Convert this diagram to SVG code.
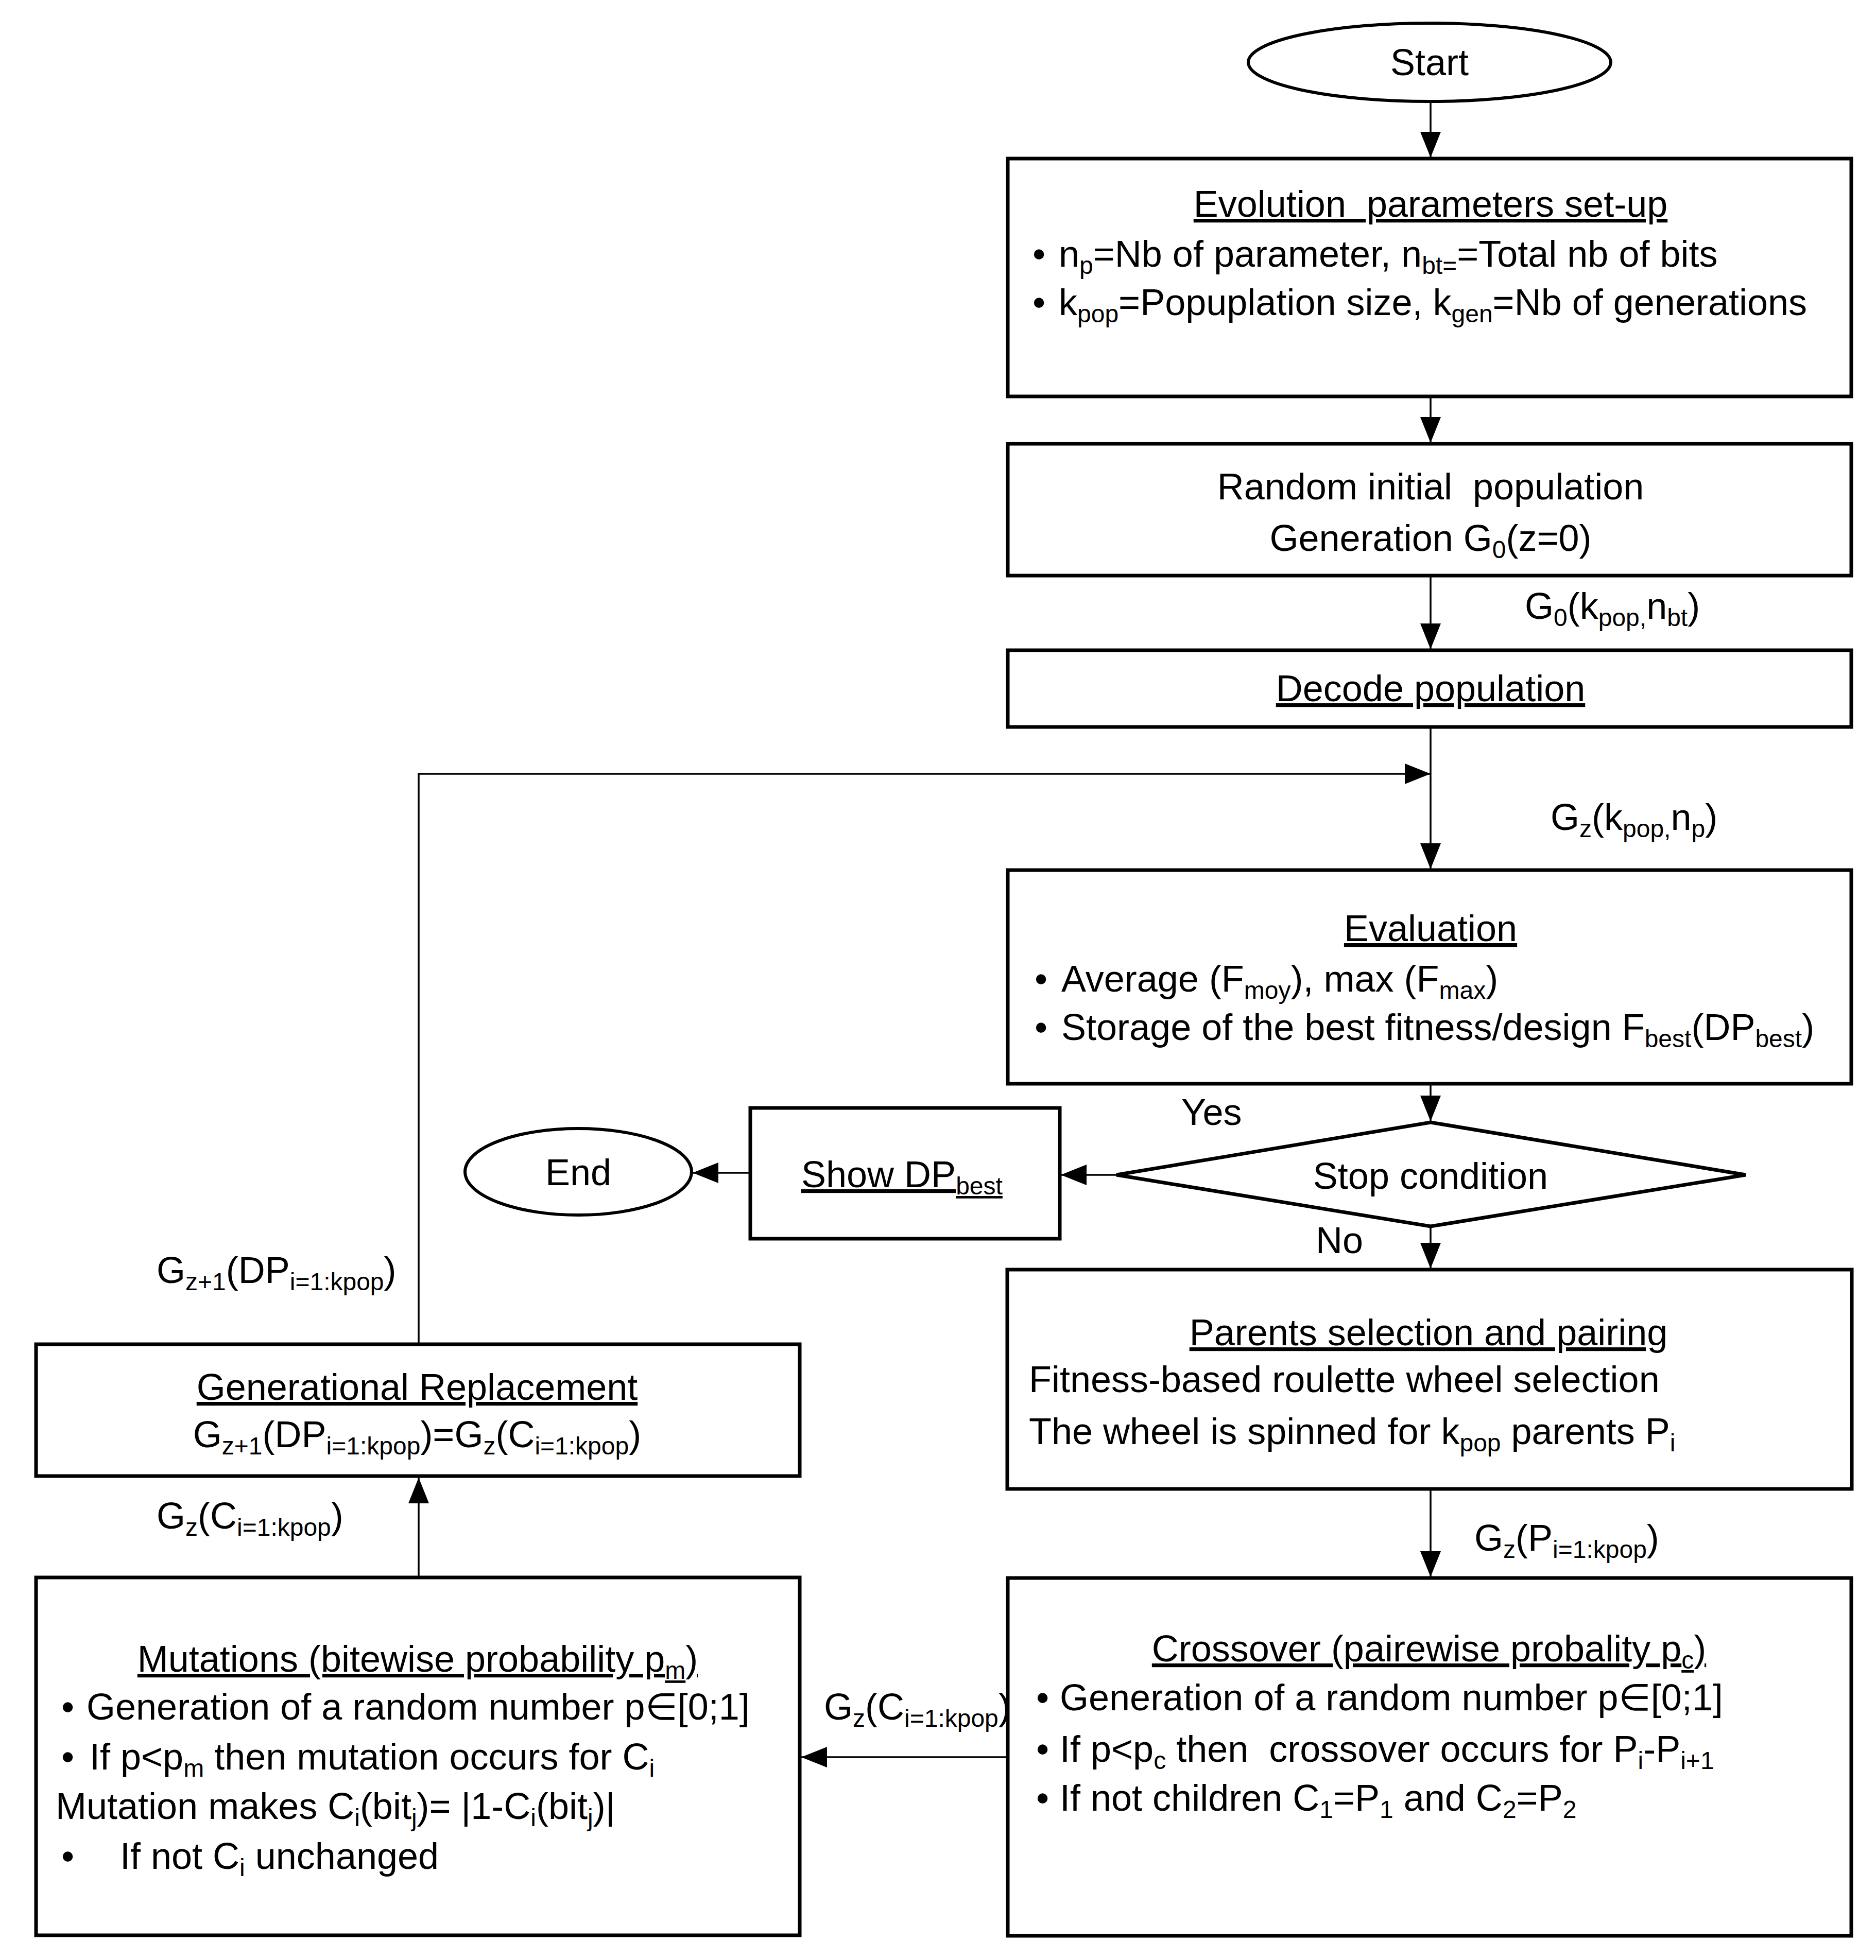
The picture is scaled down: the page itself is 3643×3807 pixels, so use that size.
<svg xmlns="http://www.w3.org/2000/svg" width="3643" height="3807" viewBox="0 0 3643 3807">
<style>
.bg{fill:#fff}
.box{fill:#fff;stroke:#000;stroke-width:7}
.t{font-family:"Liberation Sans",Arial,sans-serif;font-size:72px;fill:#000}
.m{text-anchor:middle}
.u{text-decoration:underline}
.s{font-size:48px}
.c{fill:none;stroke:#000;stroke-width:3.5}
</style>
<defs>
<marker id="ah" markerUnits="userSpaceOnUse" markerWidth="50" markerHeight="40" refX="50" refY="20" orient="auto" viewBox="0 0 50 40">
<path d="M0,0 L50,20 L0,40 z" fill="#000"/>
</marker>
</defs>
<rect class="bg" x="0" y="0" width="3643" height="3807"/>

<g id="connectors">
<line class="c" x1="2778" y1="198" x2="2778" y2="306" marker-end="url(#ah)"/>
<line class="c" x1="2778" y1="770" x2="2778" y2="860" marker-end="url(#ah)"/>
<line class="c" x1="2778" y1="1118" x2="2778" y2="1261" marker-end="url(#ah)"/>
<line class="c" x1="2778" y1="1412" x2="2778" y2="1688" marker-end="url(#ah)"/>
<polyline class="c" points="813,2611 813,1503 2778,1503" marker-end="url(#ah)"/>
<line class="c" x1="2778" y1="2105" x2="2778" y2="2178" marker-end="url(#ah)"/>
<line class="c" x1="2168" y1="2282" x2="2060" y2="2282" marker-end="url(#ah)"/>
<line class="c" x1="1457" y1="2278" x2="1345" y2="2278" marker-end="url(#ah)"/>
<line class="c" x1="2778" y1="2382" x2="2778" y2="2464" marker-end="url(#ah)"/>
<line class="c" x1="2778" y1="2892" x2="2778" y2="3063" marker-end="url(#ah)"/>
<line class="c" x1="1957" y1="3413" x2="1556" y2="3413" marker-end="url(#ah)"/>
<line class="c" x1="813" y1="3064" x2="813" y2="2870" marker-end="url(#ah)"/>
<text class="t" x="2961" y="1202">G<tspan class="s" dy="14">0</tspan><tspan dy="-14">(k</tspan><tspan class="s" dy="14">pop,</tspan><tspan dy="-14">n</tspan><tspan class="s" dy="14">bt</tspan><tspan dy="-14">)</tspan></text>
<text class="t" x="3011" y="1612">G<tspan class="s" dy="14">z</tspan><tspan dy="-14">(k</tspan><tspan class="s" dy="14">pop,</tspan><tspan dy="-14">n</tspan><tspan class="s" dy="14">p</tspan><tspan dy="-14">)</tspan></text>
<text class="t" x="2294" y="2185">Yes</text>
<text class="t" x="2555" y="2434">No</text>
<text class="t" x="2863" y="3012">G<tspan class="s" dy="14">z</tspan><tspan dy="-14">(P</tspan><tspan class="s" dy="14">i=1:kpop</tspan><tspan dy="-14">)</tspan></text>
<text class="t" x="1600" y="3340">G<tspan class="s" dy="14">z</tspan><tspan dy="-14">(C</tspan><tspan class="s" dy="14">i=1:kpop</tspan><tspan dy="-14">)</tspan></text>
<text class="t" x="304" y="2492">G<tspan class="s" dy="14">z+1</tspan><tspan dy="-14">(DP</tspan><tspan class="s" dy="14">i=1:kpop</tspan><tspan dy="-14">)</tspan></text>
<text class="t" x="304" y="2969">G<tspan class="s" dy="14">z</tspan><tspan dy="-14">(C</tspan><tspan class="s" dy="14">i=1:kpop</tspan><tspan dy="-14">)</tspan></text>
</g>

<g id="start">
<ellipse cx="2776" cy="121" rx="352" ry="76" fill="#fff" stroke="#000" stroke-width="6"/>
<text class="t m" x="2776" y="146">Start</text>
</g>

<g id="setup">
<rect class="box" x="1957" y="308" width="1638" height="462"/>
<text class="t m u" x="2778" y="421" xml:space="preserve">Evolution  parameters set-up</text>
<text class="t" x="2005" y="518">•</text>
<text class="t" x="2056" y="518">n<tspan class="s" dy="14">p</tspan><tspan dy="-14">=Nb of parameter, n</tspan><tspan class="s" dy="14">bt=</tspan><tspan dy="-14">=Total nb of bits</tspan></text>
<text class="t" x="2005" y="612">•</text>
<text class="t" x="2056" y="612">k<tspan class="s" dy="14">pop</tspan><tspan dy="-14">=Popuplation size, k</tspan><tspan class="s" dy="14">gen</tspan><tspan dy="-14">=Nb of generations</tspan></text>
</g>

<g id="init">
<rect class="box" x="1957" y="862" width="1638" height="256"/>
<text class="t m" x="2778" y="970" xml:space="preserve">Random initial  population</text>
<text class="t m" x="2778" y="1070">Generation G<tspan class="s" dy="14">0</tspan><tspan dy="-14">(z=0)</tspan></text>
</g>

<g id="decode">
<rect class="box" x="1957" y="1263" width="1638" height="149"/>
<text class="t m u" x="2778" y="1362">Decode population</text>
</g>

<g id="evaluation">
<rect class="box" x="1957" y="1690" width="1638" height="415"/>
<text class="t m u" x="2778" y="1828">Evaluation</text>
<text class="t" x="2009" y="1926">•</text>
<text class="t" x="2061" y="1926">Average (F<tspan class="s" dy="14">moy</tspan><tspan dy="-14">), max (F</tspan><tspan class="s" dy="14">max</tspan><tspan dy="-14">)</tspan></text>
<text class="t" x="2009" y="2020">•</text>
<text class="t" x="2061" y="2020">Storage of the best fitness/design F<tspan class="s" dy="14">best</tspan><tspan dy="-14">(DP</tspan><tspan class="s" dy="14">best</tspan><tspan dy="-14">)</tspan></text>
</g>

<g id="stop">
<polygon points="2778,2180 3390,2282 2778,2382 2168,2282" fill="#fff" stroke="#000" stroke-width="7"/>
<text class="t m" x="2778" y="2309">Stop condition</text>
</g>

<g id="show">
<rect class="box" x="1457" y="2152" width="601" height="254"/>
<text class="t u" x="1556" y="2306">Show DP<tspan class="s" dy="14">best</tspan></text>
</g>

<g id="end">
<ellipse cx="1123" cy="2276" rx="220" ry="84" fill="#fff" stroke="#000" stroke-width="6"/>
<text class="t m" x="1123" y="2302">End</text>
</g>

<g id="parents">
<rect class="box" x="1956" y="2466" width="1640" height="426"/>
<text class="t m u" x="2774" y="2613">Parents selection and pairing</text>
<text class="t" x="1998" y="2704">Fitness-based roulette wheel selection</text>
<text class="t" x="1998" y="2805">The wheel is spinned for k<tspan class="s" dy="14">pop</tspan><tspan dy="-14"> parents P</tspan><tspan class="s" dy="14">i</tspan></text>
</g>

<g id="crossover">
<rect class="box" x="1957" y="3065" width="1638" height="695"/>
<text class="t m u" x="2775" y="3227">Crossover (pairewise probality p<tspan class="s" dy="14">c</tspan><tspan dy="-14">)</tspan></text>
<text class="t" x="2012" y="3322">•</text>
<text class="t" x="2058" y="3322">Generation of a random number p∈[0;1]</text>
<text class="t" x="2012" y="3422">•</text>
<text class="t" x="2058" y="3422" xml:space="preserve">If p&lt;p<tspan class="s" dy="14">c</tspan><tspan dy="-14"> then  crossover occurs for P</tspan><tspan class="s" dy="14">i</tspan><tspan dy="-14">-P</tspan><tspan class="s" dy="14">i+1</tspan></text>
<text class="t" x="2012" y="3517">•</text>
<text class="t" x="2058" y="3517">If not children C<tspan class="s" dy="14">1</tspan><tspan dy="-14">=P</tspan><tspan class="s" dy="14">1</tspan><tspan dy="-14"> and C</tspan><tspan class="s" dy="14">2</tspan><tspan dy="-14">=P</tspan><tspan class="s" dy="14">2</tspan></text>
</g>

<g id="mutations">
<rect class="box" x="70" y="3064" width="1483" height="695"/>
<text class="t m u" x="811" y="3247">Mutations (bitewise probability p<tspan class="s" dy="14">m</tspan><tspan dy="-14">)</tspan></text>
<text class="t" x="119" y="3340">•</text>
<text class="t" x="168" y="3340">Generation of a random number p∈[0;1]</text>
<text class="t" x="119" y="3437">•</text>
<text class="t" x="174" y="3437">If p&lt;p<tspan class="s" dy="14">m</tspan><tspan dy="-14"> then mutation occurs for C</tspan><tspan class="s" dy="14">i</tspan></text>
<text class="t" x="108" y="3533">Mutation makes C<tspan class="s" dy="14">i</tspan><tspan dy="-14">(bit</tspan><tspan class="s" dy="14">j</tspan><tspan dy="-14">)= |1-C</tspan><tspan class="s" dy="14">i</tspan><tspan dy="-14">(bit</tspan><tspan class="s" dy="14">j</tspan><tspan dy="-14">)|</tspan></text>
<text class="t" x="119" y="3630">•</text>
<text class="t" x="233" y="3630">If not C<tspan class="s" dy="14">i</tspan><tspan dy="-14"> unchanged</tspan></text>
</g>

<g id="replacement">
<rect class="box" x="70" y="2611" width="1483" height="256"/>
<text class="t m u" x="810" y="2719">Generational Replacement</text>
<text class="t m" x="810" y="2811">G<tspan class="s" dy="14">z+1</tspan><tspan dy="-14">(DP</tspan><tspan class="s" dy="14">i=1:kpop</tspan><tspan dy="-14">)=G</tspan><tspan class="s" dy="14">z</tspan><tspan dy="-14">(C</tspan><tspan class="s" dy="14">i=1:kpop</tspan><tspan dy="-14">)</tspan></text>
</g>
</svg>
